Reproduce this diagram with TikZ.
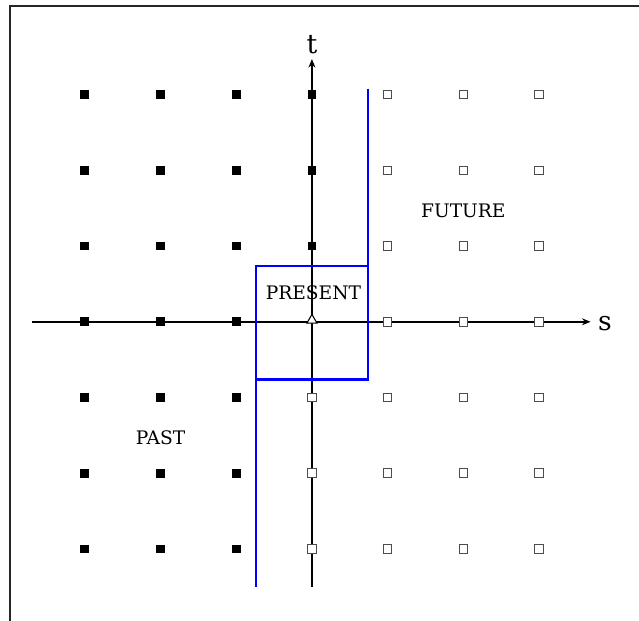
\documentclass[tikz,border=0pt]{standalone}
\usepackage{fontspec}
\setmainfont{DejaVu Serif}
\usetikzlibrary{arrows.meta,shapes.geometric}
\begin{document}
\begin{tikzpicture}[
  filledpt/.style={rectangle, fill=black, minimum size=3.3pt, inner sep=0pt},
  hollowpt/.style={rectangle, draw=black!70, fill=white, line width=0.4pt, minimum size=3.2pt, inner sep=0pt},
  originpt/.style={regular polygon, regular polygon sides=3, draw=black, fill=white, line width=0.4pt, minimum size=4.4pt, inner sep=0pt},
  axisline/.style={line width=0.55pt, -{Stealth[length=3.2pt,width=2.6pt]}},
  region/.style={blue, line width=0.9pt},
  lbl/.style={font=\fontsize{7}{9}\selectfont, inner sep=0pt},
  axlbl/.style={font=\fontsize{10}{12}\selectfont, inner sep=0pt}
]
\useasboundingbox (-4.12,-3.94) rectangle (4.32,4.25);
% frame
\draw[line width=0.75pt, black!85] (-3.99,-4.1) -- (-3.99,4.17) -- (4.5,4.17);
% axes
\coordinate (sL) at (-3.7,0);
\coordinate (sR) at (3.68,0);
\coordinate (tB) at (0,-3.5);
\coordinate (tT) at (0,3.47);
\draw[axisline] (sL) -- (sR);
\draw[axisline] (tB) -- (tT);
\node[axlbl] (slab) at (3.87,-0.02) {s};
\node[axlbl] (tlab) at (0,3.66) {t};
% markers
\foreach \i in {-3,-2,-1} \foreach \j in {-3,...,3} \node[filledpt] (p\i\j) at (\i,\j) {};
\foreach \j in {1,2,3} \node[filledpt] (p0\j) at (0,\j) {};
\foreach \j in {-3,-2,-1} \node[hollowpt] (p0\j) at (0,\j) {};
\foreach \i in {1,2,3} \foreach \j in {-3,...,3} \node[hollowpt] (p\i\j) at (\i,\j) {};
\node[originpt] (p00) at (0,0.02) {};
% regions
\coordinate (rTop) at (0.74,3.08);
\coordinate (rBR) at (0.74,-0.76);
\coordinate (rBL) at (-0.74,-0.76);
\coordinate (lBot) at (-0.74,-3.5);
\coordinate (lTL) at (-0.74,0.74);
\coordinate (lTR) at (0.74,0.74);
\draw[region] (rTop) -- (rBR) -- (rBL);
\draw[region] (lBot) -- (lTL) -- (lTR);
% labels
\node[lbl] (present) at (0.02,0.38) {PRESENT};
\node[lbl] (future) at (2.0,1.47) {FUTURE};
\node[lbl] (past) at (-2.0,-1.53) {PAST};
\end{tikzpicture}
\end{document}
